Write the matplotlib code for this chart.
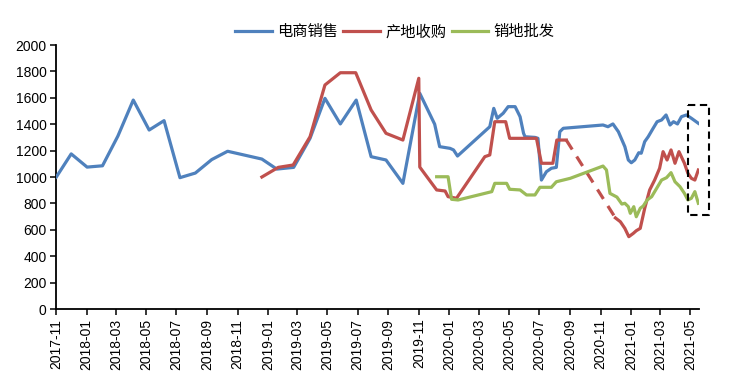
import matplotlib
matplotlib.use("Agg")
import matplotlib.pyplot as plt
import matplotlib.dates as mdates
import pandas as pd
import numpy as np

plt.rcParams['font.family'] = ['Liberation Sans', 'Noto Sans CJK SC', 'DejaVu Sans']

# ---------------- data ----------------
series_names = ["电商销售", "产地收购", "销地批发"]

blue_dates = ["2017-11-01", "2017-12-01", "2018-01-02", "2018-02-02", "2018-03-05", "2018-04-05",
              "2018-05-07", "2018-06-06", "2018-07-08", "2018-08-08", "2018-09-10", "2018-10-12",
              "2018-12-20", "2019-01-19", "2019-02-22", "2019-03-27", "2019-04-26", "2019-05-27",
              "2019-06-28", "2019-07-28", "2019-08-27", "2019-09-30", "2019-11-03", "2019-12-03",
              "2019-12-13", "2020-01-03", "2020-01-10", "2020-01-18", "2020-03-23", "2020-03-31",
              "2020-04-07", "2020-04-19", "2020-04-29", "2020-05-13", "2020-05-23", "2020-05-30",
              "2020-06-02", "2020-06-22", "2020-06-28", "2020-07-05", "2020-07-15", "2020-07-25",
              "2020-08-04", "2020-08-11", "2020-08-18", "2020-11-06", "2020-11-16", "2020-11-26",
              "2020-12-07", "2020-12-20", "2020-12-27", "2021-01-02", "2021-01-09", "2021-01-17",
              "2021-01-22", "2021-01-29", "2021-02-05", "2021-02-15", "2021-02-23", "2021-03-04",
              "2021-03-13", "2021-03-21", "2021-03-28", "2021-04-05", "2021-04-13", "2021-04-23",
              "2021-05-03", "2021-05-17"]
blue_values = [1000, 1175, 1075, 1085, 1310, 1583,
               1356, 1427, 995, 1030, 1132, 1195,
               1136, 1060, 1073, 1293, 1596, 1402,
               1583, 1154, 1129, 952, 1634, 1400,
               1230, 1217, 1205, 1159, 1381, 1520,
               1445, 1483, 1533, 1533, 1457, 1331,
               1305, 1300, 1293, 977, 1040, 1066,
               1073, 1343, 1369, 1394, 1381, 1402,
               1343, 1230, 1129, 1108, 1129, 1184,
               1180, 1268, 1305, 1369, 1419, 1432,
               1470, 1394, 1419, 1402, 1457, 1470,
               1445, 1407]

red_dates = ["2018-12-20", "2019-01-22", "2019-02-21", "2019-03-27", "2019-04-26", "2019-05-27",
             "2019-06-27", "2019-07-28", "2019-08-27", "2019-09-30", "2019-11-01", "2019-11-03",
             "2019-12-07", "2019-12-24", "2019-12-30", "2020-01-16", "2020-03-13", "2020-03-23",
             "2020-04-02", "2020-04-24", "2020-05-02", "2020-06-25", "2020-07-05", "2020-07-28",
             "2020-08-05", "2020-08-24", "2020-12-01", "2020-12-11", "2020-12-20", "2020-12-28",
             "2021-01-06", "2021-01-12", "2021-01-20", "2021-01-29", "2021-02-08", "2021-02-18",
             "2021-02-28", "2021-03-07", "2021-03-15", "2021-03-23", "2021-03-31", "2021-04-08",
             "2021-04-19", "2021-04-26", "2021-05-03", "2021-05-10", "2021-05-17"]
red_values = [1000, 1073, 1091, 1305, 1697, 1790,
              1790, 1508, 1331, 1280, 1748, 1075,
              902, 894, 851, 839, 1154, 1167,
              1419, 1419, 1293, 1293, 1104, 1104,
              1280, 1280, 690, 661, 611, 548,
              573, 593, 611, 763, 902, 977,
              1066, 1192, 1129, 1205, 1104, 1192,
              1104, 1028, 990, 977, 1053]
red_dashed_from = "2020-08-24"   # segment to the next point drawn dashed (missing data)

green_dates = ["2019-12-07", "2019-12-30", "2020-01-06", "2020-01-19", "2020-03-27", "2020-04-02",
               "2020-04-26", "2020-05-02", "2020-05-23", "2020-06-05", "2020-06-22", "2020-07-02",
               "2020-07-25", "2020-08-04", "2020-08-18", "2020-09-01", "2020-11-06", "2020-11-13",
               "2020-11-20", "2020-11-26", "2020-12-04", "2020-12-14", "2020-12-20", "2020-12-27",
               "2020-12-31", "2021-01-07", "2021-01-12", "2021-01-20", "2021-01-26", "2021-02-03",
               "2021-02-12", "2021-02-22", "2021-03-04", "2021-03-14", "2021-03-23", "2021-03-31",
               "2021-04-10", "2021-04-19", "2021-04-26", "2021-05-03", "2021-05-10", "2021-05-17"]
green_values = [1002, 1002, 831, 826, 889, 952,
                952, 907, 902, 864, 864, 922,
                922, 964, 977, 990, 1083, 1053,
                876, 864, 848, 795, 801, 775,
                725, 775, 699, 763, 780, 826,
                851, 914, 977, 995, 1033, 964,
                927, 876, 826, 839, 889, 801]

y_ticks = list(range(0, 2001, 200))

# ---------------- styles ----------------
c_blue = "#4F81BD"
c_red = "#C0504D"
c_green = "#9BBB59"
lw = 2.3

fig = plt.figure(figsize=(7.38, 3.88), dpi=100)
ax = fig.add_axes([0.0763, 0.2036, 0.8713, 0.6804])

bd = pd.to_datetime(blue_dates)
rd = pd.to_datetime(red_dates)
gd = pd.to_datetime(green_dates)

ax.plot(bd, blue_values, color=c_blue, lw=lw, solid_joinstyle='round', label=series_names[0], zorder=3)

k = red_dates.index(red_dashed_from)
ax.plot(rd[:k + 1], red_values[:k + 1], color=c_red, lw=lw, solid_joinstyle='round',
        label=series_names[1], zorder=4)
ax.plot(rd[k:k + 2], red_values[k:k + 2], color=c_red, lw=lw, dashes=(3.5, 2.6), zorder=4)
ax.plot(rd[k + 1:], red_values[k + 1:], color=c_red, lw=lw, solid_joinstyle='round', zorder=4)

ax.plot(gd, green_values, color=c_green, lw=lw, solid_joinstyle='round', label=series_names[2], zorder=5)

# highlight box around the latest readings
last = rd[-1]
box_x = [last - pd.Timedelta(days=20), last + pd.Timedelta(days=22)]
box_y = [712, 1545]
ax.plot([box_x[0], box_x[1], box_x[1], box_x[0], box_x[0]],
        [box_y[1], box_y[1], box_y[0], box_y[0], box_y[1]],
        color='black', lw=1.5, dashes=(3.5, 2.2), clip_on=False, zorder=6)

ax.set_ylim(0, 2000)
ax.set_yticks(y_ticks)
ax.set_xlim(pd.Timestamp("2017-11-01"), pd.Timestamp("2021-05-19"))
ax.xaxis.set_major_locator(mdates.MonthLocator(bymonth=[1, 3, 5, 7, 9, 11]))
ax.xaxis.set_major_formatter(mdates.DateFormatter('%Y-%m'))
for lab in ax.get_xticklabels():
    lab.set_rotation(90)

for s in ['top', 'right']:
    ax.spines[s].set_visible(False)
for s in ['left', 'bottom']:
    ax.spines[s].set_linewidth(1.3)
    ax.spines[s].set_color('black')

ax.tick_params(axis='both', direction='out', length=4, width=1.1, colors='black', labelsize=10)
ax.tick_params(axis='y', pad=3)
ax.tick_params(axis='x', pad=3)

leg = fig.legend(loc='center', bbox_to_anchor=(0.535, 0.918), ncol=3, frameon=False,
                 fontsize=11, handlelength=2.4, handletextpad=0.35, columnspacing=0.35,
                 prop={'family': ['Noto Sans CJK SC'], 'size': 11})

fig.savefig("out.png", dpi=100)
